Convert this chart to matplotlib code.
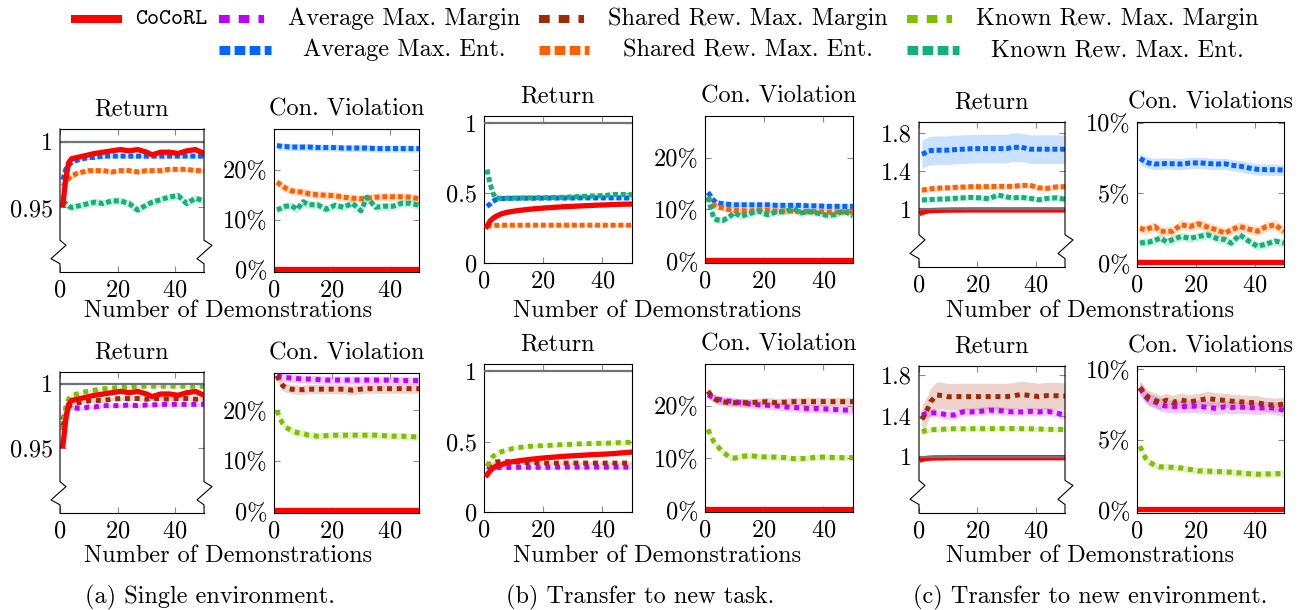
import matplotlib
matplotlib.use('Agg')
import matplotlib.pyplot as plt

plt.rcParams['font.family'] = ['cmr10', 'DejaVu Serif']
plt.rcParams['axes.unicode_minus'] = False
plt.rcParams['axes.formatter.use_mathtext'] = True
plt.rcParams['font.size'] = 17.5

# number of demonstrations (x positions of all curves)
DEMOS = [1, 2, 3, 4, 6, 8, 10, 12, 15, 18, 21, 24, 27, 30, 32, 35, 38, 41, 44, 47, 50]

COLORS = {
    'CoCoRL': '#ff0000',
    'Average Max. Margin': '#bf00ff',
    'Shared Rew. Max. Margin': '#a02a08',
    'Known Rew. Max. Margin': '#7fbf00',
    'Average Max. Ent.': '#0066ff',
    'Shared Rew. Max. Ent.': '#ff6000',
    'Known Rew. Max. Ent.': '#12b07a',
}

# ---- (a) single environment, max-ent row
a1_ret_cocorl = [.952, .972, .984, .987, .988, .989, .990, .991, .992, .993, .994, .993, .994, .992, .990, .992, .992, .991, .993, .994, .991]
a1_ret_avg = [.971, .979, .982, .984, .986, .987, .988, .988, .989, .989, .989, .989, .989, .989, .989, .989, .989, .989, .989, .989, .989]
a1_ret_shared = [.966, .969, .972, .974, .976, .977, .978, .978, .978, .977, .978, .978, .977, .978, .978, .978, .979, .979, .979, .978, .978]
a1_ret_known = [.955, .953, .951, .950, .951, .952, .953, .954, .953, .955, .955, .953, .948, .952, .954, .956, .958, .959, .953, .957, .955]
a1_cv_cocorl = [.2, .2, .2, .2, .2, .2, .2, .2, .2, .2, .2, .2, .2, .2, .2, .2, .2, .2, .2, .2, .2]
a1_cv_avg = [24.8, 24.7, 24.6, 24.6, 24.5, 24.5, 24.5, 24.5, 24.4, 24.4, 24.4, 24.3, 24.3, 24.3, 24.3, 24.2, 24.2, 24.2, 24.2, 24.2, 24.2]
a1_cv_shared = [17.5, 17.1, 16.7, 16.3, 15.8, 15.6, 15.5, 15.2, 15.0, 14.9, 14.8, 14.5, 14.3, 14.2, 14.3, 14.5, 14.6, 14.6, 14.6, 14.5, 14.2]
a1_cv_known = [12.0, 12.2, 12.5, 12.7, 12.8, 12.1, 13.6, 13.0, 13.0, 12.1, 12.9, 12.5, 13.3, 11.8, 14.5, 12.5, 12.7, 12.7, 13.3, 13.3, 12.9]

# ---- (a) single environment, max-margin row
a2_ret_avg = [.972, .979, .981, .9815, .981, .981, .982, .982, .983, .983, .983, .9835, .983, .9835, .9835, .984, .984, .984, .984, .984, .984]
a2_ret_shared = [.967, .975, .982, .984, .985, .986, .9867, .987, .987, .988, .9885, .9885, .9885, .988, .9885, .9885, .988, .9885, .9885, .988, .988]
a2_ret_known = [.964, .982, .988, .991, .992, .9935, .994, .995, .996, .9965, .997, .9975, .998, .998, .998, .998, .998, .998, .998, .998, .998]
a2_cv_avg = [26.9, 26.7, 26.6, 26.5, 26.4, 26.3, 26.2, 26.2, 26.1, 26.0, 26.0, 26.0, 26.0, 26.0, 26.0, 26.0, 26.0, 26.0, 25.9, 25.9, 25.9]
a2_cv_shared = [26.9, 25.8, 24.9, 24.5, 24.2, 24.1, 24.1, 24.2, 24.2, 24.2, 24.2, 24.2, 24.0, 24.2, 24.3, 24.3, 24.3, 24.3, 24.3, 24.3, 24.3]
a2_cv_known = [20.0, 18.5, 17.4, 16.7, 16.0, 15.6, 15.4, 15.1, 14.9, 15.0, 15.1, 15.1, 15.1, 15.1, 15.1, 15.1, 15.0, 14.9, 14.9, 14.8, 14.75]

# ---- (b) transfer to new task
b1_ret_cocorl = [.262, .298, .318, .333, .352, .363, .370, .376, .383, .389, .394, .398, .402, .405, .407, .410, .413, .415, .418, .420, .421]
b1_ret_avg = [.405, .420, .440, .452, .460, .462, .462, .463, .463, .463, .464, .464, .464, .464, .465, .465, .465, .465, .465, .465, .464]
b1_ret_shared = [.274, .266, .262, .268, .270, .270, .270, .270, .270, .270, .270, .270, .270, .270, .270, .270, .270, .270, .270, .270, .270]
b1_ret_known = [.667, .571, .500, .464, .462, .463, .464, .464, .465, .466, .467, .468, .470, .472, .475, .478, .480, .483, .490, .490, .488]
b1_cv_cocorl = [.2, .2, .2, .2, .2, .2, .2, .2, .2, .2, .2, .2, .2, .2, .2, .2, .2, .2, .2, .2, .2]
b1_cv_avg = [13.3, 12.5, 11.7, 11.3, 11.1, 11.0, 10.9, 10.9, 10.9, 10.9, 10.9, 10.8, 10.8, 10.8, 10.8, 10.7, 10.7, 10.6, 10.6, 10.6, 10.6]
b1_cv_shared = [12.4, 11.5, 10.8, 10.5, 10.3, 10.0, 9.8, 9.8, 9.7, 9.9, 9.8, 9.7, 9.7, 9.7, 9.6, 9.6, 9.6, 9.5, 9.5, 9.5, 9.5]
b1_cv_known = [12.4, 10.2, 8.3, 8.0, 7.9, 8.5, 9.4, 8.7, 9.2, 9.7, 9.0, 9.5, 9.6, 10.2, 9.3, 9.6, 9.3, 8.9, 9.0, 9.8, 8.8]

b2_ret_cocorl = [.264, .290, .311, .325, .337, .350, .358, .364, .372, .379, .385, .390, .395, .399, .401, .405, .408, .411, .415, .420, .425]
b2_ret_avg = [.323, .318, .316, .316, .316, .316, .317, .317, .317, .317, .317, .318, .318, .318, .318, .318, .318, .318, .318, .318, .318]
b2_ret_shared = [.323, .340, .350, .355, .358, .357, .355, .353, .350, .348, .347, .347, .347, .347, .347, .347, .347, .347, .347, .347, .347]
b2_ret_known = [.323, .360, .394, .410, .429, .440, .453, .458, .465, .469, .472, .475, .478, .481, .483, .485, .487, .488, .490, .493, .495]
b2_cv_avg = [22.1, 21.8, 21.5, 21.3, 21.1, 20.9, 20.8, 20.6, 20.4, 20.2, 20.1, 20.0, 19.8, 19.7, 19.6, 19.5, 19.5, 19.4, 19.3, 19.2, 19.2]
b2_cv_shared = [22.8, 22.0, 21.5, 21.1, 20.8, 20.6, 20.6, 20.6, 20.6, 20.7, 20.8, 20.6, 20.7, 20.8, 20.8, 20.8, 20.8, 20.8, 20.8, 20.8, 20.8]
b2_cv_known = [15.5, 14.2, 13.1, 12.4, 11.2, 10.3, 10.0, 10.3, 10.5, 10.3, 10.2, 10.2, 10.1, 9.9, 9.9, 10.0, 10.2, 10.2, 10.1, 10.1, 10.1]

# ---- (c) transfer to new environment
c1_ret_cocorl = [.965, .975, .982, .986, .988, .990, .991, .992, .992, .993, .993, .993, .993, .993, .993, .993, .993, .993, .993, .993, .993]
c1_ret_avg = [1.577, 1.59, 1.61, 1.615, 1.619, 1.62, 1.62, 1.625, 1.63, 1.635, 1.636, 1.636, 1.636, 1.636, 1.65, 1.65, 1.63, 1.63, 1.63, 1.63, 1.63]
c1_ret_shared = [1.20, 1.205, 1.21, 1.215, 1.22, 1.225, 1.225, 1.23, 1.233, 1.237, 1.237, 1.238, 1.24, 1.24, 1.24, 1.25, 1.252, 1.225, 1.22, 1.235, 1.237]
c1_ret_known = [1.097, 1.10, 1.10, 1.102, 1.105, 1.108, 1.11, 1.115, 1.12, 1.125, 1.12, 1.11, 1.15, 1.13, 1.12, 1.125, 1.115, 1.10, 1.115, 1.12, 1.105]
c1_cv_cocorl = [.1, .1, .1, .1, .1, .1, .1, .1, .1, .1, .1, .1, .1, .1, .1, .1, .1, .1, .1, .1, .1]
c1_cv_avg = [7.48, 7.35, 7.24, 7.15, 7.08, 7.10, 7.12, 7.10, 7.08, 7.15, 7.17, 7.12, 7.08, 7.10, 7.00, 6.93, 6.80, 6.70, 6.68, 6.68, 6.65]
c1_cv_shared = [2.52, 2.45, 2.40, 2.50, 2.64, 2.30, 2.29, 2.30, 2.76, 2.64, 2.83, 2.60, 2.40, 2.17, 2.40, 2.64, 2.45, 2.30, 2.64, 2.76, 2.29]
c1_cv_known = [1.46, 1.50, 1.52, 1.53, 1.65, 1.82, 1.55, 1.70, 1.93, 1.80, 1.93, 2.05, 1.80, 1.70, 1.46, 2.05, 1.60, 1.23, 1.40, 1.60, 1.46]

c2_ret_cocorl = [.975, .982, .986, .988, .990, .990, .991, .991, .992, .992, .992, .992, .992, .992, .992, .992, .992, .992, .992, .992, .992]
c2_ret_avg = [1.408, 1.42, 1.425, 1.43, 1.43, 1.42, 1.408, 1.41, 1.44, 1.44, 1.445, 1.457, 1.455, 1.445, 1.44, 1.44, 1.445, 1.44, 1.445, 1.43, 1.408]
c2_ret_shared = [1.366, 1.42, 1.474, 1.54, 1.605, 1.60, 1.588, 1.59, 1.59, 1.59, 1.59, 1.59, 1.59, 1.59, 1.595, 1.611, 1.60, 1.59, 1.60, 1.598, 1.595]
c2_ret_known = [1.245, 1.255, 1.26, 1.265, 1.268, 1.27, 1.275, 1.275, 1.275, 1.276, 1.276, 1.276, 1.277, 1.277, 1.277, 1.276, 1.275, 1.273, 1.27, 1.268, 1.268]
c2_cv_avg = [8.65, 8.35, 8.06, 7.85, 7.70, 7.50, 7.39, 7.38, 7.35, 7.39, 7.39, 7.30, 7.23, 7.35, 7.30, 7.32, 7.30, 7.25, 7.30, 7.25, 7.10]
c2_cv_shared = [8.72, 8.45, 8.18, 8.0, 7.82, 7.63, 7.82, 7.65, 7.82, 7.70, 7.80, 7.94, 7.85, 7.80, 7.75, 7.70, 7.65, 7.63, 7.50, 7.46, 7.54]
c2_cv_known = [4.55, 4.1, 3.67, 3.45, 3.2, 3.08, 3.08, 3.05, 3.0, 2.9, 2.8, 2.78, 2.75, 2.73, 2.7, 2.65, 2.6, 2.56, 2.58, 2.6, 2.6]

W, H = 1312, 610
fig = plt.figure(figsize=(W / 100, H / 100), dpi=100)

# overlay in pixel coords for legend / labels
lay = fig.add_axes([0, 0, 1, 1])
lay.set_xlim(0, W)
lay.set_ylim(H, 0)
lay.axis('off')


def rect(x0, y0, x1, y1):
    return [x0 / W, 1 - y1 / H, (x1 - x0) / W, (y1 - y0) / H]


def dots(name):
    # max-ent baselines are densely dotted, max-margin ones loosely dotted
    return (0, (1, 0.55)) if name.endswith('Ent.') else (0, (1, 0.95))


def panel(box, series, ylim, yticks, ylabels, title, best=None, broken=False):
    ax = fig.add_axes(rect(*box))
    for name, vals, spread in series:
        c = COLORS[name]
        ax.fill_between(DEMOS, [v - spread for v in vals], [v + spread for v in vals],
                        color=c, alpha=0.2, lw=0, zorder=1)
    if best is not None:
        ax.axhline(best, color='#6c757d', lw=1.6, zorder=5)
    for name, vals, spread in series:
        c = COLORS[name]
        if name == 'CoCoRL':
            ax.plot(DEMOS, vals, color=c, lw=3.8, zorder=4, solid_joinstyle='round')
        else:
            ax.plot(DEMOS, vals, color=c, lw=3.6, ls=dots(name),
                    dash_capstyle='butt', zorder=3)
    ax.set_xlim(0, 50)
    ax.set_ylim(*ylim)
    ax.set_xticks([0, 20, 40])
    ax.set_yticks(yticks)
    ax.set_yticklabels(ylabels)
    ax.tick_params(direction='in', top=True, right=True, length=4, width=0.8,
                   color='#8a8a8a', labelsize=17.5, pad=5)
    for s in ax.spines.values():
        s.set_linewidth(0.8)
    ax.set_title(title, fontsize=17.5, pad=10)
    if broken:
        ax.spines['left'].set_visible(False)
        ax.spines['right'].set_visible(False)
        w = box[2] - box[0]
        ys = [1, 0.222, 0.187, 0.093, 0.058, 0]
        ax.plot([0, 0, 6 / w, -9 / w, 0, 0], ys, transform=ax.transAxes,
                color='black', lw=0.8, clip_on=False, zorder=6)
        ax.plot([1, 1, 1 + 8 / w, 1 - 7 / w, 1, 1], ys, transform=ax.transAxes,
                color='black', lw=0.8, clip_on=False, zorder=6)
    return ax


AMM, SMM, KMM = 'Average Max. Margin', 'Shared Rew. Max. Margin', 'Known Rew. Max. Margin'
AME, SME, KME = 'Average Max. Ent.', 'Shared Rew. Max. Ent.', 'Known Rew. Max. Ent.'
pct = lambda t: ['%d%%' % v for v in t]

# (a)
panel((60, 129, 204, 272),
      [(AME, a1_ret_avg, .0015), (SME, a1_ret_shared, .002), (KME, a1_ret_known, .003),
       ('CoCoRL', a1_ret_cocorl, .001)],
      (0.901, 1.0096), [0.95, 1], ['0.95', '1'], 'Return', best=1, broken=True)
panel((274, 129, 419, 272),
      [(AME, a1_cv_avg, .7), (SME, a1_cv_shared, .8), (KME, a1_cv_known, .8),
       ('CoCoRL', a1_cv_cocorl, .1)],
      (-0.4, 28.1), [0, 10, 20], pct([0, 10, 20]), 'Con. Violation')
panel((60, 372, 204, 513),
      [(AMM, a2_ret_avg, .0015), (SMM, a2_ret_shared, .0015), (KMM, a2_ret_known, .001),
       ('CoCoRL', a1_ret_cocorl, .001)],
      (0.9, 1.009), [0.95, 1], ['0.95', '1'], 'Return', best=1, broken=True)
panel((274, 373, 419, 513),
      [(AMM, a2_cv_avg, .8), (SMM, a2_cv_shared, .9), (KMM, a2_cv_known, .7),
       ('CoCoRL', a1_cv_cocorl, .1)],
      (-0.3, 27.4), [0, 10, 20], pct([0, 10, 20]), 'Con. Violation')

# (b)
panel((484, 116, 632, 263),
      [(AME, b1_ret_avg, .01), (SME, b1_ret_shared, .008), (KME, b1_ret_known, .015),
       ('CoCoRL', b1_ret_cocorl, .005)],
      (0, 1.05), [0, 0.5, 1], ['0', '0.5', '1'], 'Return', best=1)
panel((705, 116, 853, 263),
      [(AME, b1_cv_avg, .6), (SME, b1_cv_shared, .6), (KME, b1_cv_known, .7),
       ('CoCoRL', b1_cv_cocorl, .1)],
      (-0.3, 28), [0, 10, 20], pct([0, 10, 20]), 'Con. Violation')
panel((484, 364, 632, 512),
      [(AMM, b2_ret_avg, .01), (SMM, b2_ret_shared, .01), (KMM, b2_ret_known, .012),
       ('CoCoRL', b2_ret_cocorl, .005)],
      (0, 1.05), [0, 0.5, 1], ['0', '0.5', '1'], 'Return', best=1)
panel((705, 364, 853, 512),
      [(AMM, b2_cv_avg, .8), (SMM, b2_cv_shared, .8), (KMM, b2_cv_known, .6),
       ('CoCoRL', b1_cv_cocorl, .1)],
      (-0.3, 28), [0, 10, 20], pct([0, 10, 20]), 'Con. Violation')

# (c)
panel((919, 122, 1065, 267),
      [(AME, c1_ret_avg, .15), (SME, c1_ret_shared, .03), (KME, c1_ret_known, .03),
       ('CoCoRL', c1_ret_cocorl, .015)],
      (0.395, 1.915), [1, 1.4, 1.8], ['1', '1.4', '1.8'], 'Return', best=1, broken=True)
panel((1137, 122, 1284, 267),
      [(AME, c1_cv_avg, .4), (SME, c1_cv_shared, .35), (KME, c1_cv_known, .3),
       ('CoCoRL', c1_cv_cocorl, .05)],
      (-0.24, 10.07), [0, 5, 10], pct([0, 5, 10]), 'Con. Violations')
panel((919, 366, 1065, 513),
      [(AMM, c2_ret_avg, .04), (SMM, c2_ret_shared, .13), (KMM, c2_ret_known, .025),
       ('CoCoRL', c2_ret_cocorl, .02)],
      (0.451, 1.889), [1, 1.4, 1.8], ['1', '1.4', '1.8'], 'Return', best=1, broken=True)
panel((1137, 366, 1284, 513),
      [(AMM, c2_cv_avg, .45), (SMM, c2_cv_shared, .5), (KMM, c2_cv_known, .25),
       ('CoCoRL', c1_cv_cocorl, .05)],
      (-0.19, 10.24), [0, 5, 10], pct([0, 5, 10]), 'Con. Violations')

# shared x labels and captions
for cx in (228, 657, 1090):
    for cy in (311, 556):
        lay.text(cx, cy, 'Number of Demonstrations', ha='center', va='center', fontsize=17.5)
for cx, cap in ((210, '(a) Single environment.'), (640, '(b) Transfer to new task.'),
                (1090, '(c) Transfer to new environment.')):
    lay.text(cx, 597, cap, ha='center', va='center', fontsize=17.5)

# legend
lay.plot([71, 122], [19, 19], color=COLORS['CoCoRL'], lw=5.8, solid_capstyle='butt')
lay.text(135, 19, 'CoCoRL', family='cmtt10', fontsize=16.5, va='center', ha='left')
legend_rows = [
    (19, [(AMM, 219, 264, 404), (SMM, 539, 584, 748), (KMM, 907, 952, 1117)]),
    (50, [(AME, 219, 271, 404), (SME, 539, 589, 748), (KME, 907, 959, 1117)]),
]
for y, items in legend_rows:
    for name, x0, x1, tx in items:
        if name.endswith('Ent.'):
            lay.plot([x0, x1], [y, y], color=COLORS[name], lw=6.5, ls=(0, (1.19, 0.48)),
                     dash_capstyle='butt')
        else:
            lay.plot([x0, x1], [y, y], color=COLORS[name], lw=5.8, ls=(0, (1.33, 1.12)),
                     dash_capstyle='butt')
        lay.text(tx, y, name, ha='center', va='center', fontsize=17.5)

fig.savefig('out.png', dpi=100)
